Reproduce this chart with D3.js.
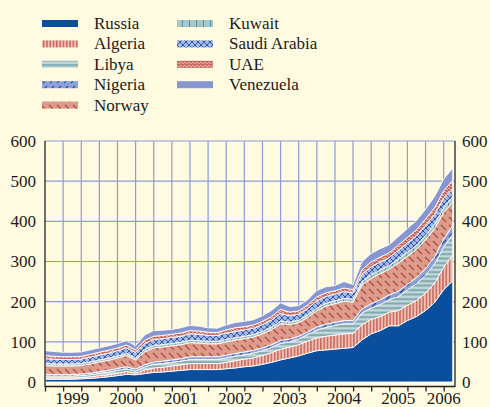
<!DOCTYPE html>
<html>
<head>
<meta charset="utf-8">
<script src="https://cdn.jsdelivr.net/npm/d3@7"></script>
<style>
    body { margin: 0; background: #fffbe0; }
    svg { display: block; }
    text { font-family: "Liberation Serif", "Times New Roman", serif; fill: #1a1a1a; }
</style>
</head>
<body>
<div id="chart"></div>
<script>
// months since Jan 1999, every second month
const months = [0,2,4,6,8,10,12,14,16,18,20,22,24,26,28,30,32,34,36,38,40,42,44,46,48,50,52,54,56,58,60,62,64,66,68,70,72,74,76,78,80,82,84,86,88,90];

const russia    = [7,7,7,7,8,9,11,13,16,19,18,21,24,25,27,29,31,31,31,31,33,35,38,40,44,49,55,60,65,72,78,80,82,84,86,105,120,128,140,140,153,163,178,198,230,252];
const algeria   = [3,3,3,3,3,4,5,5,6,7,4,9,11,12,13,14,15,15,15,15,16,18,19,20,22,24,27,27,28,30,32,34,35,36,35,38,36,35,34,38,38,40,43,48,56,64];
const libya     = [5,5,5,5,5,5,6,6,7,7,5,8,9,9,9,9,10,10,10,10,11,11,11,12,12,13,14,13,14,16,19,22,24,25,24,29,28,30,31,35,38,42,45,48,50,52];
const nigeria   = [4,4,4,4,4,4,4,5,5,5,5,5,6,6,6,6,7,7,7,7,7,7,7,7,7,7,8,7,7,7,8,8,8,8,8,10,11,12,12,13,14,15,16,18,20,22];
const norway    = [22,21,21,21,21,23,24,25,26,28,23,32,35,35,35,35,35,34,32,32,33,33,33,33,35,37,41,36,34,36,40,45,46,48,46,60,63,65,64,70,70,70,72,70,66,58];
const kuwait    = [5,5,5,5,5,5,5,5,5,5,5,6,6,6,6,6,6,6,6,6,6,6,6,6,6,6,7,6,6,6,7,7,7,7,7,8,9,9,9,10,10,10,11,11,12,13];
const saudi     = [12,12,11,11,11,12,12,13,13,14,13,15,15,15,15,15,16,16,15,15,16,16,16,16,17,18,19,16,15,16,18,17,17,17,16,19,20,20,20,22,23,24,25,24,24,20];
const uae       = [8,7,7,7,7,7,7,7,7,7,7,8,8,8,8,8,8,8,8,7,8,9,8,8,8,9,10,9,8,9,10,9,8,9,8,11,12,12,12,13,14,15,16,17,18,21];
const venezuela = [12,12,11,11,11,11,11,11,11,11,10,13,14,13,12,13,13,12,11,11,12,13,13,13,14,15,16,14,13,13,16,15,13,16,13,20,21,21,20,21,22,23,24,28,29,31];

const countries = ["Russia","Algeria","Libya","Nigeria","Norway","Kuwait","Saudi Arabia","UAE","Venezuela"];
const seriesValues = [russia, algeria, libya, nigeria, norway, kuwait, saudi, uae, venezuela];

const yTicks = [0,100,200,300,400,500,600];
const yearLabels = ["1999","2000","2001","2002","2003","2004","2005","2006"];
const yearLabelMonth = [6,18,30,42,54,66,78,88];

const width = 490, height = 407;
const fontSize = 17;

const svg = d3.select("#chart").append("svg")
    .attr("width", width)
    .attr("height", height);

svg.append("rect").attr("width", width).attr("height", height).attr("fill", "#fffbe0");

// ---- patterns
const defs = svg.append("defs");

function pattern(id, w, h, bg) {
    const p = defs.append("pattern")
        .attr("id", id)
        .attr("patternUnits", "userSpaceOnUse")
        .attr("width", w).attr("height", h);
    p.append("rect").attr("width", w).attr("height", h).attr("fill", bg);
    return p;
}

pattern("p-russia", 4, 4, "#0a4f9e");

let p = pattern("p-algeria", 3.3, 4, "#efc1b4");
p.append("rect").attr("x", 0).attr("width", 1.5).attr("height", 4).attr("fill", "#c9685e");

p = pattern("p-libya", 4, 4.5, "#c2d7d9");
p.append("rect").attr("y", 1.2).attr("width", 4).attr("height", 1.8).attr("fill", "#78a3ab");

p = pattern("p-nigeria", 7, 7, "#8ea0da");
p.append("line").attr("x1", 1).attr("y1", 6).attr("x2", 5).attr("y2", 2)
    .attr("stroke", "#1d4d9e").attr("stroke-width", 1.1);

p = pattern("p-norway", 8, 8, "#dd9b8b");
p.append("line").attr("x1", 1).attr("y1", 1).attr("x2", 6).attr("y2", 6)
    .attr("stroke", "#b0433a").attr("stroke-width", 1.1);

p = pattern("p-kuwait", 7, 4, "#a8c5c8");
p.append("rect").attr("x", 0).attr("width", 1).attr("height", 4).attr("fill", "#5f919c");

p = pattern("p-saudi", 6, 6, "#a7b8e6");
p.append("path").attr("d", "M0,0L6,6M0,6L6,0")
    .attr("stroke", "#2a5bb0").attr("stroke-width", 1).attr("fill", "none");

p = pattern("p-uae", 4, 3, "#e6b3a6");
p.append("path").attr("d", "M0,1.5Q1,0 2,1.5T4,1.5")
    .attr("stroke", "#bb3b34").attr("stroke-width", 1.2).attr("fill", "none");

pattern("p-venezuela", 4, 4, "#8796d0");

const fills = ["p-russia","p-algeria","p-libya","p-nigeria","p-norway","p-kuwait","p-saudi","p-uae","p-venezuela"];

// ---- scales
const x = d3.scaleLinear().domain([0, 90.5]).range([45, 455]);
const y = d3.scaleLinear().domain([0, 600]).range([382, 141]);

// ---- grid
const grid = svg.append("g").attr("class", "grid");
const gridMonths = d3.range(4, 90, 4);

grid.selectAll(".vgrid").data(gridMonths).enter()
    .append("line")
    .attr("x1", d => x(d)).attr("x2", d => x(d))
    .attr("y1", y(600)).attr("y2", y(0))
    .attr("stroke", "#8e9bd8").attr("stroke-width", 1.2);

grid.selectAll(".hgrid").data(yTicks.slice(1)).enter()
    .append("line")
    .attr("x1", x(0)).attr("x2", x(90.5))
    .attr("y1", d => y(d)).attr("y2", d => y(d))
    .attr("stroke", "#8e9bd8").attr("stroke-width", 1.2);

// ---- stacked areas
const rows = months.map((m, i) => {
    const r = { m: m };
    countries.forEach((c, k) => { r[c] = seriesValues[k][i]; });
    return r;
});

const stacked = d3.stack().keys(countries)(rows);

const area = d3.area()
    .x(d => x(d.data.m))
    .y0(d => y(d[0]))
    .y1(d => y(d[1]));

svg.append("g").selectAll("path")
    .data(stacked).enter()
    .append("path")
    .attr("d", area)
    .attr("fill", (d, i) => `url(#${fills[i]})`)
    .attr("stroke", "#ffffff")
    .attr("stroke-width", 0.9)
    .attr("stroke-linejoin", "round");

// ---- axes
const axisColor = "#222";

const yLeft = svg.append("g")
    .attr("transform", `translate(${x(0)},0)`)
    .call(d3.axisLeft(y).tickValues(yTicks).tickSize(0).tickPadding(9));
const yRight = svg.append("g")
    .attr("transform", `translate(${x(90.5)},0)`)
    .call(d3.axisRight(y).tickValues(yTicks).tickSize(0).tickPadding(7));

[yLeft, yRight].forEach(g => {
    g.select(".domain").remove();
    g.selectAll("text")
        .attr("font-size", fontSize)
        .attr("font-family", "Liberation Serif, Times New Roman, serif")
        .attr("fill", "#1a1a1a");
});

svg.append("line")
    .attr("x1", x(0)).attr("x2", x(0))
    .attr("y1", y(600)).attr("y2", 387)
    .attr("stroke", axisColor).attr("stroke-width", 1.3);
svg.append("line")
    .attr("x1", x(90.5)).attr("x2", x(90.5))
    .attr("y1", y(600)).attr("y2", 387)
    .attr("stroke", axisColor).attr("stroke-width", 1.3);

// bottom axis: line with ticks every 4 months
const xAxis = svg.append("g")
    .attr("transform", "translate(0,386.5)")
    .call(d3.axisBottom(x).tickValues(d3.range(0, 90, 4)).tickSize(5).tickFormat(""));
xAxis.select(".domain").attr("d", `M${x(0)},0H${x(90.5)}`).attr("stroke", axisColor).attr("stroke-width", 1.3);
xAxis.selectAll(".tick line").attr("stroke", axisColor).attr("stroke-width", 1.3);

svg.append("g").selectAll("text")
    .data(yearLabels).enter()
    .append("text")
    .attr("x", (d, i) => x(yearLabelMonth[i]))
    .attr("y", 403.5)
    .attr("text-anchor", "middle")
    .attr("font-size", fontSize)
    .text(d => d);

// ---- legend
const legendRows = [
    {col: 0, row: 0}, {col: 0, row: 1}, {col: 0, row: 2}, {col: 0, row: 3}, {col: 0, row: 4},
    {col: 1, row: 0}, {col: 1, row: 1}, {col: 1, row: 2}, {col: 1, row: 3}
];

const legend = svg.append("g").attr("class", "legend");

countries.forEach((c, i) => {
    const pos = legendRows[i];
    const lx = pos.col === 0 ? 42 : 177;
    const ly = 23.5 + pos.row * 20.4;
    legend.append("rect")
        .attr("x", lx).attr("y", ly - 3.5)
        .attr("width", 36).attr("height", 7)
        .attr("fill", `url(#${fills[i]})`);
    legend.append("text")
        .attr("x", lx + 52).attr("y", ly + 5.5)
        .attr("font-size", fontSize)
        .text(c);
});
</script>
</body>
</html>
